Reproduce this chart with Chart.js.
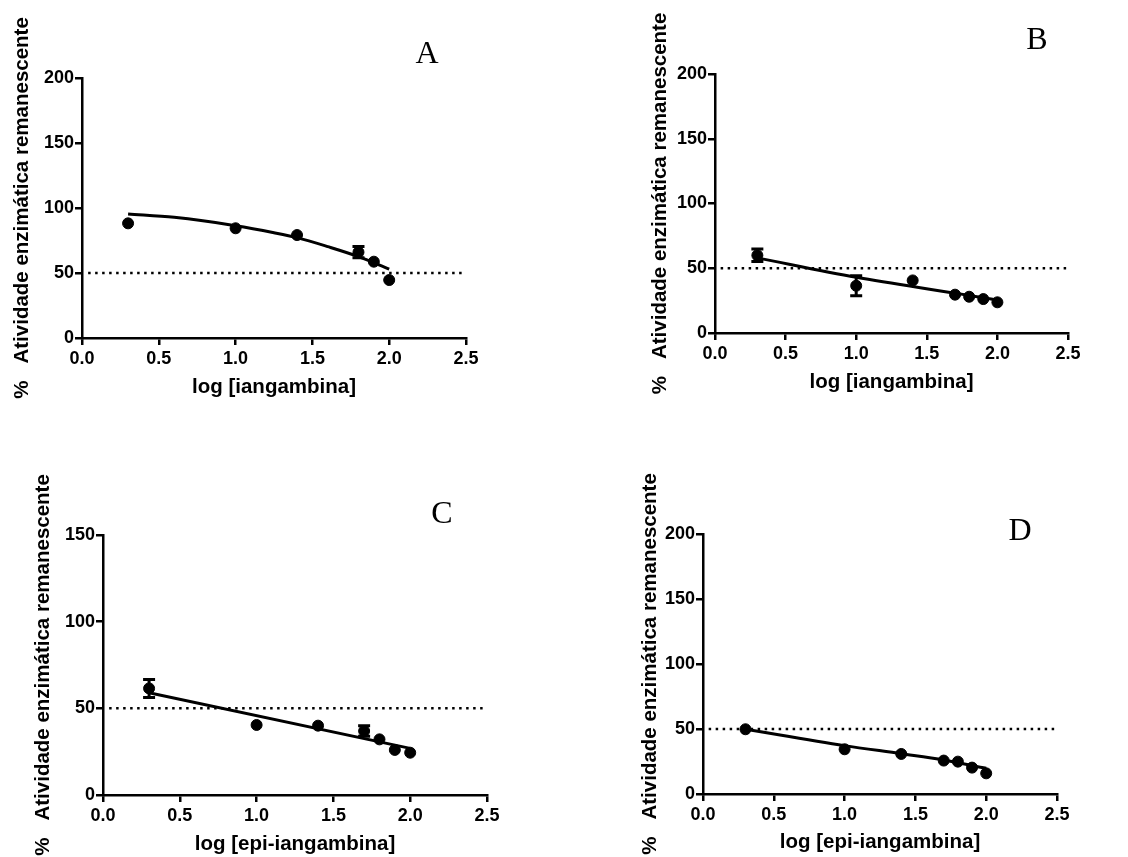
<!DOCTYPE html>
<html>
<head>
<meta charset="utf-8">
<script src="https://cdn.jsdelivr.net/npm/chart.js@4.4.0/dist/chart.umd.min.js"></script>
<style>
  body { margin: 0; background: #fff; }
  #wrap { position: relative; width: 1128px; height: 857px; overflow: hidden; }
  canvas { position: absolute; left: 0; top: 0; }
  .letra { position: absolute; font-family: "Liberation Serif", "Times New Roman", serif; font-size: 32px; line-height: 32px; color: #000; transform: translateX(-50%); }
</style>
</head>
<body>
<div id="wrap">
  <canvas id="gA" width="1128" height="857"></canvas>
  <canvas id="gB" width="1128" height="857"></canvas>
  <canvas id="gC" width="1128" height="857"></canvas>
  <canvas id="gD" width="1128" height="857"></canvas>
  <div class="letra" style="left:427px; top:36px;">A</div>
  <div class="letra" style="left:1037px; top:22px;">B</div>
  <div class="letra" style="left:442px; top:496px;">C</div>
  <div class="letra" style="left:1020px; top:513px;">D</div>
</div>
<script>
// dados
const xTicks = [0, 0.5, 1.0, 1.5, 2.0, 2.5];

const xA = [0.3, 1.0, 1.4, 1.8, 1.9, 2.0];
const yA = [88.2, 84.4, 79.2, 66, 58.7, 44.6];
const errA = [0, 0, 0, 4.3, 0, 0];
const ajusteXA = [0.3, 0.6, 1.0, 1.25, 1.4, 1.6, 1.8, 2.0];
const ajusteYA = [95.4, 92.8, 86.4, 81, 77.2, 70.3, 62.6, 53];

const xB = [0.3, 1.0, 1.4, 1.7, 1.8, 1.9, 2.0];
const yB = [60, 36.5, 40.6, 29.6, 28, 26.2, 23.7];
const errB = [4.8, 7.7, 0, 0, 0, 0, 0];
const ajusteXB = [0.3, 1.0, 1.7, 2.0];
const ajusteYB = [58, 43, 30.8, 25.5];

const xC = [0.3, 1.0, 1.4, 1.7, 1.8, 1.9, 2.0];
const yC = [61.5, 40.4, 40, 36.9, 32.1, 26, 24.4];
const errC = [5.2, 0, 0, 3, 0, 0, 0];
const ajusteXC = [0.3, 2.0];
const ajusteYC = [59, 26.9];

const xD = [0.3, 1.0, 1.4, 1.7, 1.8, 1.9, 2.0];
const yD = [49.8, 34.4, 30.8, 25.7, 24.9, 20.3, 15.9];
const errD = [0, 0, 0, 0, 0, 0, 0];
const ajusteXD = [0.3, 1.0, 1.4, 1.7, 2.0];
const ajusteYD = [49.8, 37.2, 31, 26.2, 19.8];

const linha50 = 50;
const inicio50 = 0.04;

Chart.defaults.color = '#000';
Chart.defaults.font.family = '"Liberation Sans", Arial, sans-serif';

const barrasErro = {
  id: 'barrasErro',
  afterDatasetsDraw(chart, args, opts) {
    const ctx = chart.ctx;
    const sx = chart.scales.x, sy = chart.scales.y;
    ctx.save();
    ctx.strokeStyle = '#000';
    ctx.lineWidth = 3;
    opts.x.forEach((xv, i) => {
      const e = opts.err[i];
      if (!e) return;
      const px = sx.getPixelForValue(xv);
      const top = sy.getPixelForValue(opts.y[i] + e);
      const bot = sy.getPixelForValue(opts.y[i] - e);
      ctx.beginPath();
      ctx.moveTo(px, top); ctx.lineTo(px, bot);
      ctx.moveTo(px - 6, top); ctx.lineTo(px + 6, top);
      ctx.moveTo(px - 6, bot); ctx.lineTo(px + 6, bot);
      ctx.stroke();
    });
    ctx.restore();
  }
};

function pares(xs, ys) {
  return xs.map((x, i) => ({ x: x, y: ys[i] }));
}

function grafico(id, cfg) {
  const tituloFonte = { size: 20.5, weight: 'bold', lineHeight: 1.2 };
  const pl = cfg.tx - 12;
  const W = cfg.L - pl;
  const H = cfg.ty + 12 - cfg.B;
  const eixo = {
    grid: { display: true, drawOnChartArea: false, drawTicks: true, tickLength: 7, color: '#000', lineWidth: 2.5 },
    border: { display: true, color: '#000', width: 2.5 }
  };
  new Chart(document.getElementById(id), {
    type: 'scatter',
    data: {
      datasets: [
        {
          data: pares(cfg.x, cfg.y),
          backgroundColor: '#000', borderColor: '#000',
          pointRadius: 5.5, pointHoverRadius: 5.5, order: 0
        },
        {
          type: 'line',
          data: pares(cfg.ajusteX, cfg.ajusteY),
          borderColor: '#000', borderWidth: 3, pointRadius: 0,
          fill: false, cubicInterpolationMode: 'monotone', order: 1
        },
        {
          type: 'line',
          data: [{ x: inicio50, y: linha50 }, { x: 2.5, y: linha50 }],
          borderColor: '#000', borderWidth: 2.5, borderDash: [2.5, 4.5],
          pointRadius: 0, fill: false, order: 2
        }
      ]
    },
    options: {
      responsive: false,
      animation: false,
      layout: { padding: { left: pl, top: cfg.T, right: 1128 - cfg.R, bottom: 857 - cfg.B - H } },
      plugins: {
        legend: { display: false },
        tooltip: { enabled: false },
        barrasErro: { x: cfg.x, y: cfg.y, err: cfg.err }
      },
      scales: {
        x: Object.assign({
          type: 'linear', min: 0, max: 2.5,
          afterBuildTicks: s => { s.ticks = xTicks.map(v => ({ value: v })); },
          afterFit: s => { s.height = H; },
          ticks: { font: { size: 18, weight: 'bold' }, padding: 3, callback: v => v.toFixed(1), maxRotation: 0 },
          title: { display: true, text: cfg.xTitulo, font: tituloFonte, padding: 0 }
        }, eixo),
        y: Object.assign({
          type: 'linear', min: 0, max: cfg.yMax,
          ticks: { stepSize: 50, font: { size: 18, weight: 'bold' }, padding: 1 },
          afterFit: s => { s.width = W; },
          title: { display: true, text: '%   Atividade enzimática remanescente', font: tituloFonte, padding: 0 }
        }, eixo)
      }
    },
    plugins: [barrasErro]
  });
}

grafico('gA', { L: 82, T: 78, R: 466, B: 338, tx: 22, ty: 388, yMax: 200,
  x: xA, y: yA, err: errA, ajusteX: ajusteXA, ajusteY: ajusteYA, xTitulo: 'log [iangambina]' });
grafico('gB', { L: 715, T: 74, R: 1068, B: 333, tx: 660, ty: 383, yMax: 200,
  x: xB, y: yB, err: errB, ajusteX: ajusteXB, ajusteY: ajusteYB, xTitulo: 'log [iangambina]' });
grafico('gC', { L: 103, T: 535, R: 487, B: 795, tx: 43, ty: 845, yMax: 150,
  x: xC, y: yC, err: errC, ajusteX: ajusteXC, ajusteY: ajusteYC, xTitulo: 'log [epi-iangambina]' });
grafico('gD', { L: 703, T: 534, R: 1057, B: 794, tx: 650, ty: 843, yMax: 200,
  x: xD, y: yD, err: errD, ajusteX: ajusteXD, ajusteY: ajusteYD, xTitulo: 'log [epi-iangambina]' });
</script>
</body>
</html>
